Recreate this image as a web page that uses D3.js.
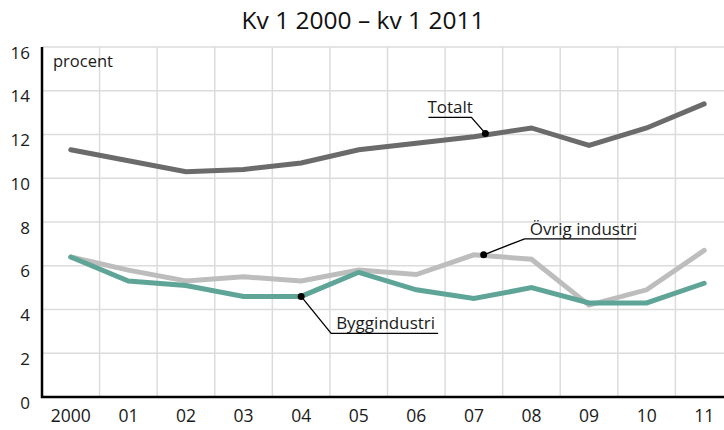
<!DOCTYPE html>
<html><head><meta charset="utf-8">
<script src="https://cdn.jsdelivr.net/npm/d3@7"></script>
<style>body{margin:0;background:#fff}svg{display:block;font-family:"Open Sans",sans-serif}</style>
</head><body><svg id="c" width="724" height="430"></svg>
<script>
const categories = ["2000","01","02","03","04","05","06","07","08","09","10","11"];
const totalt = [11.3,10.8,10.3,10.4,10.7,11.3,11.6,11.9,12.3,11.5,12.3,13.4];
const ovrigIndustri = [6.4,5.8,5.3,5.5,5.3,5.8,5.6,6.5,6.3,4.2,4.9,6.7];
const byggindustri = [6.4,5.3,5.1,4.6,4.6,5.7,4.9,4.5,5.0,4.3,4.3,5.2];
const yTicks = [0,2,4,6,8,10,12,14,16];
const title = "Kv 1 2000 \u2013 kv 1 2011";
const unitLabel = "procent";

(function(){
const svg = d3.select("#c");
const mL = 42, mR = 733, mT = 47, mB = 397;
const x = d3.scaleBand().domain(categories).range([mL, mR]);
const y = d3.scaleLinear().domain([0,16]).range([mB, mT]);
const cx = i => x(categories[0]) + x.bandwidth()/2 + i*x.step();

// grid
svg.append("g").selectAll("line").data(yTicks.filter(d=>d>0)).join("line")
  .attr("x1",mL).attr("x2",724).attr("y1",d=>y(d)).attr("y2",d=>y(d))
  .attr("stroke","#dcdcdc").attr("stroke-width",1.5);
svg.append("g").selectAll("line").data(categories.slice(1)).join("line")
  .attr("x1",d=>x(d)).attr("x2",d=>x(d)).attr("y1",mT).attr("y2",mB)
  .attr("stroke","#dcdcdc").attr("stroke-width",1.5);

// axes
const yAxis = svg.append("g").attr("transform",`translate(${mL},0)`)
  .call(d3.axisLeft(y).tickValues(yTicks).tickSize(0).tickPadding(12));
yAxis.select(".domain").remove();
yAxis.selectAll("text").attr("font-size",17).attr("fill","#1a1a1a").attr("font-family","Open Sans")
  .attr("dy","0.65em");
const xAxis = svg.append("g").attr("transform",`translate(0,${mB})`)
  .call(d3.axisBottom(x).tickSize(0).tickPadding(13));
xAxis.select(".domain").remove();
xAxis.selectAll("text").attr("font-size",17.5).attr("fill","#1a1a1a").attr("font-family","Open Sans");

svg.append("line").attr("x1",mL).attr("x2",mL).attr("y1",mT).attr("y2",mB+1)
  .attr("stroke","#000").attr("stroke-width",2.5);
svg.append("line").attr("x1",mL-1).attr("x2",724).attr("y1",mB).attr("y2",mB)
  .attr("stroke","#000").attr("stroke-width",2.5);

// lines
const line = d3.line().x((d,i)=>cx(i)).y(d=>y(d));
const series = [
  {vals: ovrigIndustri, color:"#bdbdbd"},
  {vals: byggindustri, color:"#5fa597"},
  {vals: totalt, color:"#6b6b6b"}
];
svg.append("g").selectAll("path").data(series).join("path")
  .attr("d",d=>line(d.vals)).attr("fill","none").attr("stroke",d=>d.color)
  .attr("stroke-width",5).attr("stroke-linejoin","miter").attr("stroke-linecap","round");

// title and unit
svg.append("text").attr("x",363).attr("y",29).attr("text-anchor","middle")
  .attr("font-size",24.5).attr("fill","#111").text(title);
svg.append("text").attr("x",53).attr("y",67).attr("font-size",16.5).attr("fill","#1a1a1a").text(unitLabel);

// annotations: dot at (category index, value), elbow offset in px
const annotations = [
  {label:"Totalt", xi:7.2, v:12.05, dx:-14, dy:-16, side:"left", w:43},
  {label:"\u00d6vrig industri", xi:7.17, v:6.5, dx:41, dy:-16, side:"right", w:111},
  {label:"Byggindustri", xi:4.0, v:4.6, dx:30, dy:37, side:"right", w:107}
];
const ag = svg.append("g");
annotations.forEach(a=>{
  const px = cx(a.xi), py = y(a.v);
  const ex = px + a.dx, ey = py + a.dy;
  const ux = a.side==="left" ? ex - a.w : ex + a.w;
  ag.append("path").attr("d",`M${px},${py}L${ex},${ey}L${ux},${ey}`)
    .attr("fill","none").attr("stroke","#000").attr("stroke-width",1.3);
  ag.append("circle").attr("cx",px).attr("cy",py).attr("r",3.5).attr("fill","#000");
  const tx = a.side==="left" ? ux - 1 : ex + 5;
  ag.append("text").attr("x",tx).attr("y",ey-4).attr("font-size",17).attr("fill","#1a1a1a").text(a.label);
});
})();
</script></body></html>
